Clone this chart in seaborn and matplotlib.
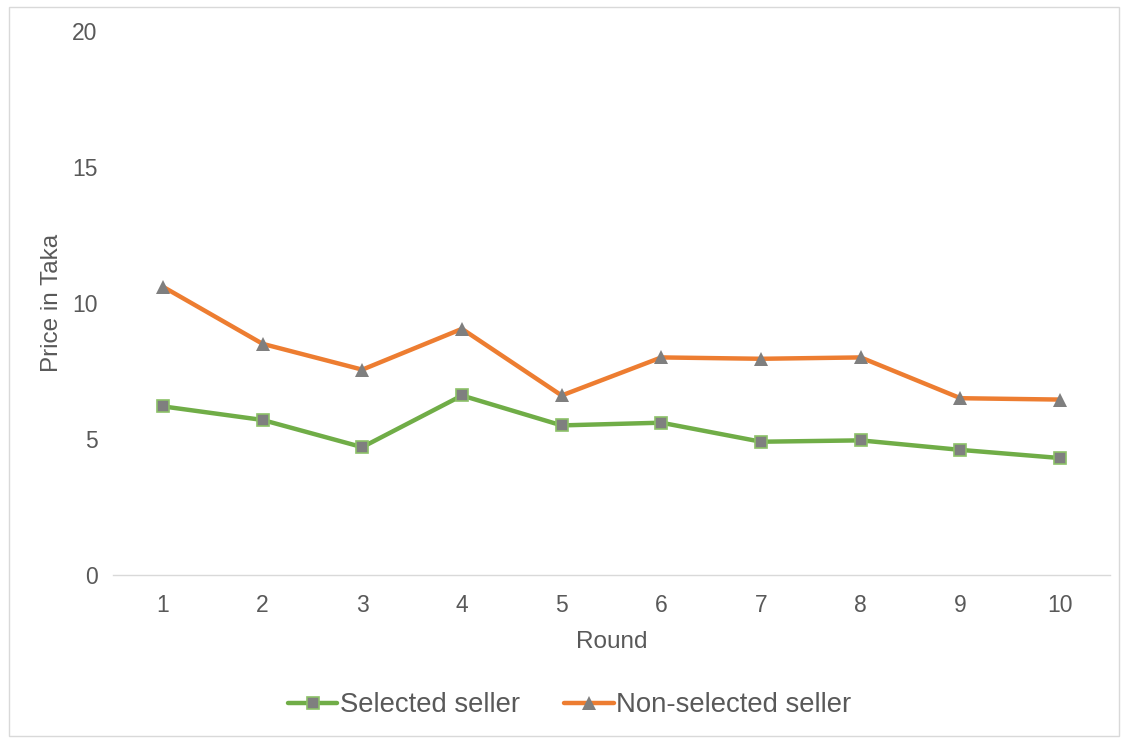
import matplotlib
matplotlib.use('Agg')
import pandas as pd
import seaborn as sns
from matplotlib import pyplot as plt
from matplotlib.patches import Rectangle

sns.set_style('white')
plt.rcParams['font.family'] = ['Liberation Sans', 'DejaVu Sans']

rounds = [1, 2, 3, 4, 5, 6, 7, 8, 9, 10]
selected = [6.2, 5.7, 4.7, 6.6, 5.5, 5.6, 4.9, 4.95, 4.6, 4.3]
non_selected = [10.6, 8.5, 7.55, 9.05, 6.6, 8.0, 7.95, 8.0, 6.5, 6.45]

df = pd.DataFrame({'Round': rounds, 'Selected seller': selected,
                   'Non-selected seller': non_selected})

grey = '#595959'
fig = plt.figure(figsize=(11.28, 7.40), dpi=100)
ax = fig.add_axes([0.1002, 0.223, 0.8838, 0.735])

sns.lineplot(data=df, x='Round', y='Selected seller', ax=ax, color='#70AD47',
             lw=3.2, marker='s', markersize=8.5, markerfacecolor='#7F7F7F',
             markeredgecolor='#8CC168', markeredgewidth=1.2, label='Selected seller')
sns.lineplot(data=df, x='Round', y='Non-selected seller', ax=ax, color='#ED7D31',
             lw=3.2, marker='^', markersize=9.5, markerfacecolor='#7F7F7F',
             markeredgecolor='#7F7F7F', markeredgewidth=0, label='Non-selected seller')

ax.set_xlim(0.5, 10.5)
ax.set_ylim(0, 20)
ax.set_xticks(rounds)
ax.set_yticks([0, 5, 10, 15, 20])
ax.tick_params(length=0, labelsize=16.5, labelcolor=grey)
ax.tick_params(axis='x', pad=14)
ax.tick_params(axis='y', pad=11)
ax.set_xlabel('Round', fontsize=17.5, color=grey, labelpad=10)
ax.set_ylabel('Price in Taka', fontsize=17.5, color=grey, labelpad=7)
for s in ['top', 'right', 'left']:
    ax.spines[s].set_visible(False)
ax.spines['bottom'].set_color('#D9D9D9')
ax.spines['bottom'].set_linewidth(1)

leg = ax.legend(loc='center', bbox_to_anchor=(0.505, 0.047), bbox_transform=fig.transFigure,
                ncol=2, frameon=False, fontsize=19.8, handlelength=1.8,
                handletextpad=0.1, columnspacing=1.6)
for t in leg.get_texts():
    t.set_color(grey)

fig.patches.append(Rectangle((0.008, 0.005), 0.984, 0.985, transform=fig.transFigure,
                             fill=False, edgecolor='#D9D9D9', lw=1))

fig.savefig('out.png', dpi=100)
